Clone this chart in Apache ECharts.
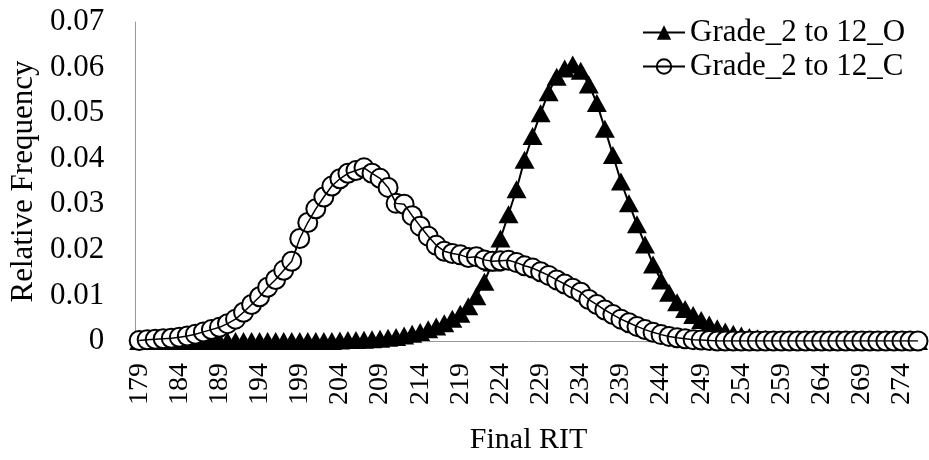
<!DOCTYPE html>
<html>
<head>
<meta charset="utf-8">
<script src="https://cdn.jsdelivr.net/npm/echarts@6/dist/echarts.min.js"></script>
<style>
  html, body { margin: 0; padding: 0; background: #fff; }
  #chart { width: 929px; height: 460px; }
</style>
</head>
<body>
<div id="chart"></div>
<script>
// Final RIT score categories (179 .. 276)
const rit = [
  '179','180','181','182','183','184','185','186','187','188',
  '189','190','191','192','193','194','195','196','197','198',
  '199','200','201','202','203','204','205','206','207','208',
  '209','210','211','212','213','214','215','216','217','218',
  '219','220','221','222','223','224','225','226','227','228',
  '229','230','231','232','233','234','235','236','237','238',
  '239','240','241','242','243','244','245','246','247','248',
  '249','250','251','252','253','254','255','256','257','258',
  '259','260','261','262','263','264','265','266','267','268',
  '269','270','271','272','273','274','275','276'
];

// Relative frequency, Grade_2 to 12_O
const gradeO = [
  0,0,0,0,0,0,0,0,0,0,                                        // 179-188
  0,0,0,0,0,0,0,0,0,0,                                        // 189-198
  0,0,0,0,0,                                                  // 199-203
  0.0001,0.0002,0.0002,0.0003,0.0004,0.0005,0.0007,0.0009,0.0012,0.0016, // 204-213
  0.0020,0.0026,0.0032,0.0039,0.0049,0.0060,0.0076,0.0098,0.0130,0.0172, // 214-223
  0.0225,0.0278,0.0333,0.0398,0.0450,0.0500,0.0546,0.0580,0.0598,0.0607, // 224-233
  0.0593,0.0563,0.0522,0.0466,0.0408,0.0350,0.0302,0.0256,0.0212,0.0168, // 234-243
  0.0133,0.0106,0.0085,0.0070,0.0057,0.0046,0.0036,0.0028,0.0021,0.0016, // 244-253
  0.0012,0.0009,0.0006,0.0004,0.0003,0.0002,0.0001,                      // 254-260
  0,0,0,0,0,0,0,0,0,0,0,0,0,0,0,0                             // 261-276
];

// Relative frequency, Grade_2 to 12_C
const gradeC = [
  0.0001,0.0003,0.0004,0.0005,0.0006,0.0008,0.0011,0.0015,0.0020,0.0025, // 179-188
  0.0030,0.0038,0.0048,0.0063,0.0080,0.0097,0.0118,0.0135,0.0155,0.0175, // 189-198
  0.0225,0.0260,0.0290,0.0316,0.0340,0.0356,0.0368,0.0374,0.0380,0.0368, // 199-208
  0.0357,0.0337,0.0302,0.0300,0.0275,0.0252,0.0230,0.0210,0.0197,0.0192, // 209-218
  0.0189,0.0183,0.0185,0.0178,0.0175,0.0176,0.0177,0.0172,0.0165,0.0160, // 219-228
  0.0152,0.0144,0.0134,0.0125,0.0116,0.0107,0.0091,0.0080,0.0068,0.0058, // 229-238
  0.0048,0.0040,0.0032,0.0025,0.0019,0.0014,0.0010,0.0007,0.0005,0.0003, // 239-248
  0.0002,0.0001,                                                          // 249-250
  0,0,0,0,0,0,0,0,0,0,0,0,0,0,0,0,0,0,0,0,0,0,0,0,0,0          // 251-276
];

const nameO = 'Grade_2 to 12_O';
const nameC = 'Grade_2 to 12_C';
const yTicks = [0, 0.07, 0.01]; // min, max, step

const FONT = '"Liberation Serif", "Times New Roman", serif';
const AXIS_GRAY = '#999999';

const chart = echarts.init(document.getElementById('chart'), null, { renderer: 'canvas' });

chart.setOption({
  backgroundColor: '#ffffff',
  animation: false,
  textStyle: { fontFamily: FONT, color: '#000' },
  grid: { left: 131, right: 7, top: 22, bottom: 112, containLabel: false },
  legend: {
    orient: 'vertical',
    left: 637,
    top: 12,
    padding: 5,
    itemWidth: 42,
    itemHeight: 18,
    itemGap: 3,
    textStyle: { fontFamily: FONT, fontSize: 31, color: '#000' },
    data: [
      { name: nameO },
      { name: nameC, itemStyle: { color: 'rgba(0,0,0,0)', borderColor: '#000', borderWidth: 2 } }
    ]
  },
  xAxis: {
    type: 'category',
    data: rit,
    boundaryGap: true,
    name: 'Final RIT',
    nameLocation: 'middle',
    nameGap: 84,
    nameTextStyle: { fontFamily: FONT, fontSize: 30, color: '#000' },
    axisLine: { show: true, lineStyle: { color: AXIS_GRAY, width: 1 } },
    axisTick: { show: false },
    axisLabel: {
      interval: 4,
      rotate: 90,
      margin: 22,
      fontFamily: FONT,
      fontSize: 28,
      color: '#000'
    },
    splitLine: { show: false }
  },
  yAxis: {
    type: 'value',
    min: yTicks[0],
    max: yTicks[1],
    interval: yTicks[2],
    name: 'Relative Frequency',
    nameLocation: 'middle',
    nameGap: 90,
    nameTextStyle: { fontFamily: FONT, fontSize: 31, color: '#000' },
    axisLine: { show: true, lineStyle: { color: AXIS_GRAY, width: 1 } },
    axisTick: { show: false },
    splitLine: { show: false },
    axisLabel: {
      margin: 31,
      fontFamily: FONT,
      fontSize: 31,
      color: '#000',
      formatter: v => (v === 0 ? '0' : v.toFixed(2))
    }
  },
  series: [
    {
      name: nameO,
      type: 'line',
      data: gradeO,
      symbol: 'triangle',
      symbolSize: [20, 18],
      showAllSymbol: true,
      itemStyle: { color: '#000' },
      lineStyle: { color: '#000', width: 2 },
      z: 2
    },
    {
      name: nameC,
      type: 'line',
      data: gradeC,
      symbol: 'circle',
      symbolSize: 19,
      showAllSymbol: true,
      itemStyle: { color: '#fff', borderColor: '#000', borderWidth: 2 },
      lineStyle: { color: '#000', width: 1.5 },
      z: 3
    },
    {
      // connecting line of the C series drawn above its markers
      name: nameC + ' line',
      type: 'line',
      data: gradeC,
      symbol: 'none',
      silent: true,
      lineStyle: { color: '#000', width: 1.5 },
      z: 4
    }
  ]
});
</script>
</body>
</html>
